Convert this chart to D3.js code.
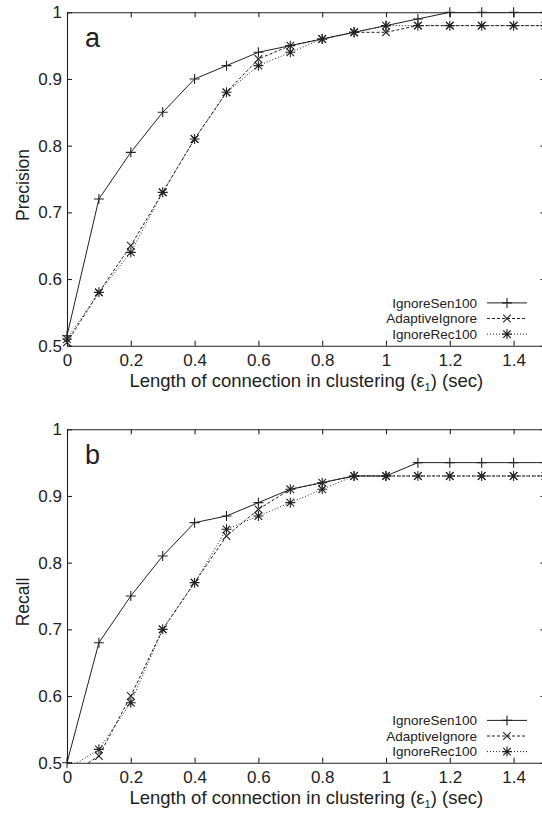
<!DOCTYPE html>
<html>
<head>
<meta charset="utf-8">
<script src="https://cdn.jsdelivr.net/npm/d3@7"></script>
<style>
  html, body { margin: 0; padding: 0; background: #fff; }
  svg { display: block; font-family: "Liberation Sans", Arial, Helvetica, sans-serif; }
</style>
</head>
<body>
<svg id="chart" width="542" height="813"></svg>
<script>
// ====================================
// Data
// ====================================
const epsValues = [0, 0.1, 0.2, 0.3, 0.4, 0.5, 0.6, 0.7, 0.8, 0.9, 1.0, 1.1, 1.2, 1.3, 1.4, 1.5];

const precisionSen      = [0.515, 0.72, 0.79, 0.85, 0.90, 0.92, 0.94, 0.95, 0.96, 0.97, 0.98, 0.99, 1.00, 1.00, 1.00, 1.00];
const precisionAdaptive = [0.505, 0.58, 0.65, 0.73, 0.81, 0.88, 0.93, 0.95, 0.96, 0.97, 0.97, 0.98, 0.98, 0.98, 0.98, 0.98];
const precisionRec      = [0.510, 0.58, 0.64, 0.73, 0.81, 0.88, 0.92, 0.94, 0.96, 0.97, 0.98, 0.98, 0.98, 0.98, 0.98, 0.98];

const recallSen         = [0.50, 0.68, 0.75, 0.81, 0.86, 0.87, 0.89, 0.91, 0.92, 0.93, 0.93, 0.95, 0.95, 0.95, 0.95, 0.95];
const recallAdaptive    = [0.48, 0.51, 0.60, 0.70, 0.77, 0.84, 0.88, 0.91, 0.92, 0.93, 0.93, 0.93, 0.93, 0.93, 0.93, 0.93];
const recallRec         = [0.49, 0.52, 0.59, 0.70, 0.77, 0.85, 0.87, 0.89, 0.91, 0.93, 0.93, 0.93, 0.93, 0.93, 0.93, 0.93];

const seriesNames = ["IgnoreSen100", "AdaptiveIgnore", "IgnoreRec100"];
const xTickValues = [0, 0.2, 0.4, 0.6, 0.8, 1, 1.2, 1.4];
const yTickValues = [0.5, 0.6, 0.7, 0.8, 0.9, 1];

// ====================================
// Layout
// ====================================
const ink = "#222";
const plotLeft = 67;
const plotRight = 545.5;

const seriesStyles = [
    { dash: null,  marker: "plus" },
    { dash: "3,2", marker: "cross" },
    { dash: "1,2", marker: "star" }
];

// legendY = centre of the middle legend row
const panels = [
    { id: "a", letter: "a", label: "Precision", top: 12.3, bottom: 345.7, legendY: 318.5,
      series: [precisionSen, precisionAdaptive, precisionRec] },
    { id: "b", letter: "b", label: "Recall", top: 429.3, bottom: 762.7, legendY: 736,
      series: [recallSen, recallAdaptive, recallRec] }
];

const svg = d3.select("#chart");

/**
 * Builds the path of a gnuplot-like point marker
 * @param {string} type - plus, cross or star
 */
function markerPath(type, cx, cy) {
    const s = 5;
    const d = 3.8;
    const plus = `M${cx - s},${cy}H${cx + s}M${cx},${cy - s}V${cy + s}`;
    const cross = `M${cx - d},${cy - d}L${cx + d},${cy + d}M${cx - d},${cy + d}L${cx + d},${cy - d}`;
    if (type === "plus") return plus;
    if (type === "cross") return cross;
    return plus + cross;
}

function styleAxis(g) {
    g.attr("font-size", 17)
        .attr("font-family", "'Liberation Sans', Arial, sans-serif")
        .attr("color", ink);
    g.selectAll("path, line").attr("stroke-width", 1.1);
}

/**
 * Draws one panel (axes, curves, legend, labels)
 */
function drawPanel(panel) {
    const x = d3.scaleLinear().domain([0, 1.5]).range([plotLeft, plotRight]);
    const y = d3.scaleLinear().domain([0.5, 1]).range([panel.bottom, panel.top]);

    const g = svg.append("g").attr("class", "panel");

    // Axes with inward ticks, mirrored on top and right
    g.append("g")
        .attr("transform", `translate(0,${panel.bottom})`)
        .call(d3.axisBottom(x).tickValues(xTickValues).tickSizeInner(-5).tickSizeOuter(0).tickPadding(8)
            .tickFormat(d3.format("~g")))
        .call(styleAxis);

    g.append("g")
        .attr("transform", `translate(0,${panel.top})`)
        .call(d3.axisTop(x).tickValues(xTickValues).tickSizeInner(-5).tickSizeOuter(0).tickFormat(""))
        .call(styleAxis);

    g.append("g")
        .attr("transform", `translate(${plotLeft},0)`)
        .call(d3.axisLeft(y).tickValues(yTickValues).tickSizeInner(-5).tickSizeOuter(0).tickPadding(5)
            .tickFormat(d3.format("~g")))
        .call(styleAxis);

    g.append("g")
        .attr("transform", `translate(${plotRight},0)`)
        .call(d3.axisRight(y).tickValues(yTickValues).tickSizeInner(-5).tickSizeOuter(0).tickFormat(""))
        .call(styleAxis);

    // Clip for the curves
    g.append("clipPath")
        .attr("id", `clip-${panel.id}`)
        .append("rect")
        .attr("x", plotLeft)
        .attr("y", panel.top)
        .attr("width", plotRight - plotLeft)
        .attr("height", panel.bottom - panel.top);

    const line = d3.line()
        .x((d, i) => x(epsValues[i]))
        .y(d => y(d));

    panel.series.forEach((values, i) => {
        const style = seriesStyles[i];

        g.append("path")
            .datum(values)
            .attr("clip-path", `url(#clip-${panel.id})`)
            .attr("fill", "none")
            .attr("stroke", ink)
            .attr("stroke-width", 1)
            .attr("stroke-dasharray", style.dash)
            .attr("d", line);

        g.append("g")
            .selectAll("path")
            .data(values.map((v, k) => ({ x: epsValues[k], v })).filter(d => d.v >= 0.5 && d.v <= 1))
            .join("path")
            .attr("fill", "none")
            .attr("stroke", ink)
            .attr("stroke-width", 1.1)
            .attr("d", d => markerPath(style.marker, x(d.x), y(d.v)));
    });

    // Legend
    const legend = g.append("g").attr("font-size", 13.5).attr("fill", ink);
    seriesNames.forEach((name, i) => {
        const ly = panel.legendY + (i - 1) * 15.6;
        legend.append("text")
            .attr("x", 477)
            .attr("y", ly)
            .attr("dy", "0.35em")
            .attr("text-anchor", "end")
            .text(name);
        legend.append("line")
            .attr("x1", 487).attr("x2", 527)
            .attr("y1", ly).attr("y2", ly)
            .attr("stroke", ink)
            .attr("stroke-width", 1)
            .attr("stroke-dasharray", seriesStyles[i].dash);
        legend.append("path")
            .attr("fill", "none")
            .attr("stroke", ink)
            .attr("stroke-width", 1.1)
            .attr("d", markerPath(seriesStyles[i].marker, 507, ly));
    });

    // Panel letter
    g.append("text")
        .attr("x", 85)
        .attr("y", panel.top + 34.5)
        .attr("font-size", 27)
        .attr("fill", ink)
        .text(panel.letter);

    // Axis titles
    g.append("text")
        .attr("transform", `translate(29,${(panel.top + panel.bottom) / 2 + 6}) rotate(-90)`)
        .attr("text-anchor", "middle")
        .attr("font-size", 17.5)
        .attr("fill", ink)
        .text(panel.label);

    const xl = g.append("text")
        .attr("x", (plotLeft + plotRight) / 2)
        .attr("y", panel.bottom + 41)
        .attr("text-anchor", "middle")
        .attr("font-size", 18.5)
        .attr("fill", ink);
    xl.append("tspan").text("Length of connection in clustering (ε");
    xl.append("tspan").attr("font-size", 11).attr("dy", 4).text("1");
    xl.append("tspan").attr("dy", -4).text(") (sec)");
}

panels.forEach(drawPanel);
</script>
</body>
</html>
